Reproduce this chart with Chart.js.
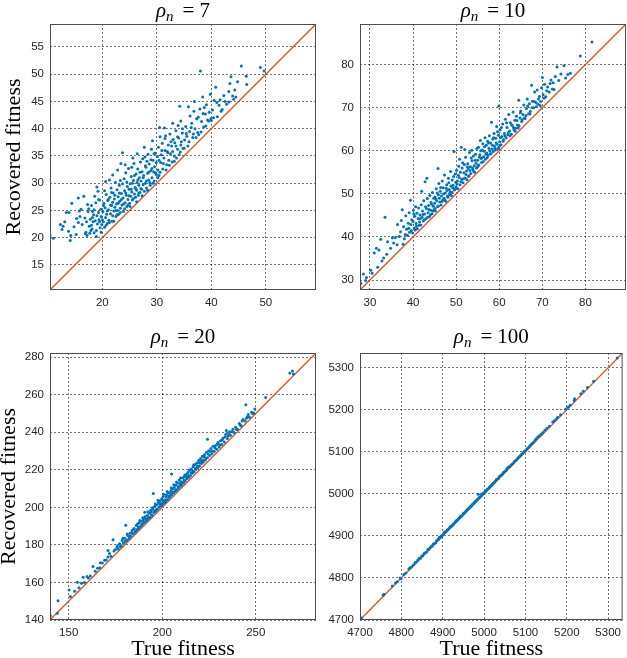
<!DOCTYPE html>
<html>
<head>
<meta charset="utf-8">
<script src="https://cdn.jsdelivr.net/npm/chart.js@4.4.1/dist/chart.umd.min.js"></script>
<style>
  html, body { margin: 0; padding: 0; background: #fff; }
  #wrap { position: relative; width: 627px; height: 658px; overflow: hidden; }
  canvas { position: absolute; }
</style>
</head>
<body>
<div id="wrap">
  <canvas id="c7" width="318" height="310" style="left:0;top:0"></canvas>
  <canvas id="c10" width="309" height="310" style="left:318px;top:0"></canvas>
  <canvas id="c20" width="318" height="348" style="left:0;top:310px"></canvas>
  <canvas id="c100" width="309" height="348" style="left:318px;top:310px"></canvas>
</div>
<script>
// [true fitness, recovered fitness]
const pts7 = [
  [10.4,20.5],[11.0,19.9],[12.3,22.4],[12.8,22.1],[13.1,22.9],[13.4,24.6],[13.9,24.6],[13.8,21.2],[14.2,20.4],[14.1,19.5],[14.4,26.3],[12.6,21.5],[14.8,22.0],
  [15.2,20.6],[15.6,22.8],[15.6,27.3],[15.8,24.9],[15.9,23.9],[16.6,27.6],[17.0,21.0],[16.3,22.4],[16.8,23.6],[17.2,20.4],[17.4,24.8],[17.6,22.1],[17.8,23.4],[18.0,25.9],[18.1,21.6],[18.3,22.9],[18.4,24.2],[18.5,20.9],[18.7,23.1],[18.8,26.4],[18.9,20.2],[19.0,29.3],[19.2,28.5],[19.1,22.5],[19.3,24.6],[19.4,23.3],[19.6,21.8],[19.7,25.2],[19.8,23.9],[19.9,22.4],[16.1,25.2],[17.3,26.1],[15.3,23.5],[16.9,20.7],[18.6,27.6],[17.9,21.3],[19.5,26.9],[18.2,24.8],
  [17.1,22.9],[17.5,25.3],[17.7,20.8],[18.0,22.3],[18.2,23.7],[18.5,25.1],[18.9,21.3],[19.0,24.0],[19.3,27.0],[19.5,22.9],[19.8,21.0],
  [20.1,24.8],[20.2,22.9],[20.3,26.3],[20.4,21.9],[20.5,25.5],[20.6,23.7],[20.7,27.9],[20.8,24.3],[20.9,22.6],[21.0,26.8],[21.1,25.1],[21.3,30.6],[21.2,23.2],[21.4,27.4],[21.5,24.4],[21.6,29.1],[21.7,25.9],[21.8,23.0],[21.9,26.5],[22.0,28.2],[22.1,24.9],[22.2,27.1],[22.3,25.6],[22.4,30.1],[22.5,23.9],[22.6,26.2],[22.7,28.8],[22.8,25.0],[22.9,27.5],[23.0,24.3],[23.1,29.6],[23.2,26.7],[23.3,25.4],[23.4,33.6],[23.5,28.1],[23.6,26.0],[23.7,35.6],[23.8,27.3],[23.9,24.8],[24.0,30.8],[24.1,28.6],[24.2,26.4],[24.3,31.9],[24.4,27.8],[24.5,25.7],[24.6,29.4],[24.7,27.0],[24.8,32.7],[24.9,28.9],[20.6,30.3],[21.9,31.5],[22.8,32.4],[24.2,33.4],[23.3,30.5],
  [20.0,23.3],[20.2,25.9],[20.4,28.6],[20.7,22.3],[20.9,24.9],[21.1,27.0],[21.3,22.8],[21.5,26.0],[21.7,28.3],[21.9,24.0],[22.1,23.0],[22.3,27.8],[22.5,25.0],[22.7,24.2],[22.9,26.3],[23.1,28.2],[23.3,24.6],[23.5,27.0],[23.7,29.9],[23.9,26.2],[24.1,25.3],[24.3,28.2],[24.5,30.2],[24.7,26.0],[24.9,27.7],
  [25.0,26.3],[25.1,29.9],[25.2,27.6],[25.3,31.2],[25.4,28.4],[25.5,26.9],[25.6,34.6],[25.7,30.5],[25.8,33.6],[25.9,28.0],[26.0,29.2],[26.1,27.4],[26.2,31.7],[26.3,28.7],[26.4,30.1],[26.5,32.6],[26.6,27.8],[26.7,29.6],[26.8,31.0],[26.9,28.3],[27.0,33.9],[27.1,30.4],[27.2,28.9],[27.3,32.1],[27.5,29.7],[27.6,31.4],[27.7,36.6],[27.8,34.8],[27.9,30.0],[28.0,32.9],[28.1,29.1],[28.3,31.8],[28.4,35.3],[28.5,30.6],[28.6,33.5],[28.8,29.6],[28.9,32.3],[29.0,36.2],[29.2,37.8],[29.1,31.0],[29.3,34.2],[29.5,30.4],[29.6,33.0],[29.7,35.5],[29.9,31.6],[26.4,35.4],[27.4,34.5],[28.2,34.0],[25.4,32.9],[29.4,32.1],
  [25.1,25.7],[25.3,28.9],[25.5,30.0],[25.7,27.2],[25.9,31.4],[26.1,29.0],[26.3,26.6],[26.5,30.6],[26.7,28.2],[26.9,32.0],[27.1,29.0],[27.3,27.7],[27.5,31.0],[27.7,28.5],[27.9,33.2],[28.1,30.4],[28.3,28.7],[28.5,32.0],[28.7,30.1],[28.9,34.3],[29.1,32.7],[29.3,30.0],[29.5,35.4],[29.7,31.9],[29.9,33.8],
  [30.1,34.9],[30.2,32.4],[30.3,36.6],[30.5,40.2],[30.6,38.5],[30.4,31.4],[30.7,33.8],[30.8,35.2],[31.0,37.3],[31.1,32.6],[31.3,34.6],[31.5,36.0],[31.6,38.7],[31.8,33.4],[31.9,35.8],[32.1,37.0],[32.2,34.2],[32.4,39.0],[32.5,35.4],[32.7,36.8],[32.8,33.9],[33.0,38.0],[33.2,35.0],[33.3,37.4],[33.5,39.6],[33.6,34.6],[33.8,36.2],[33.9,40.6],[34.0,38.3],[34.2,44.1],[34.3,35.7],[34.5,37.6],[34.7,39.2],[34.8,36.4],[31.4,40.1],[32.9,41.0],[34.4,41.4],
  [30.2,31.0],[30.4,34.2],[30.6,32.0],[30.9,36.0],[31.2,33.6],[31.5,38.2],[31.7,32.4],[32.0,35.6],[32.3,33.3],[32.6,37.6],[32.9,35.8],[33.2,34.0],[33.5,36.8],[33.8,38.5],[34.1,35.2],[34.4,37.0],[34.7,40.0],
  [35.1,37.9],[35.3,40.4],[35.5,38.6],[35.8,44.0],[35.7,36.8],[36.1,42.3],[36.0,39.5],[36.4,41.0],[36.6,38.4],[36.8,43.2],[37.0,40.0],[37.3,41.8],[37.5,39.3],[37.7,38.9],[37.9,43.6],[38.0,50.6],[38.2,41.3],[38.4,45.8],[38.6,40.3],[38.9,42.7],[39.1,44.4],[39.3,41.6],[39.5,41.4],[39.8,46.3],[39.9,41.8],[36.9,45.0],[38.7,43.9],
  [35.0,36.4],[35.4,39.1],[35.9,37.6],[36.3,40.2],[36.7,39.0],[37.2,38.4],[37.6,42.1],[38.1,39.4],[38.5,42.8],[39.0,40.5],[39.6,43.0],
  [40.2,43.4],[40.5,45.2],[40.8,47.6],[41.1,42.2],[41.4,44.3],[41.6,45.3],[42.0,43.5],[42.3,46.1],[42.8,44.5],[43.2,44.9],[43.2,46.8],[43.4,48.3],[43.6,49.5],[44.1,45.4],[44.3,47.1],[44.5,45.8],[45.5,51.5],[46.4,49.6],[46.5,48.1],[49.0,51.2],[49.7,50.6],
  [40.0,41.5],[40.4,42.0],[41.0,44.8],[41.8,43.2],[42.5,45.0],[43.9,46.0],[44.8,48.6]
];

const pts10 = [
  [27.9,29.2],[28.5,31.4],[29.2,30.6],[30.5,31.6],[29.0,29.9],[30.2,32.3],[31.0,36.3],[31.5,37.4],[32.1,37.0],[32.5,39.5],[33.2,35.1],[33.5,44.6],[32.8,34.4],[34.1,38.9],[34.8,37.4],[31.8,33.0],[33.9,36.0],
  [35.2,39.8],[35.9,39.9],[35.5,38.6],[36.3,38.2],[36.8,40.1],[37.1,41.2],[37.5,46.3],[37.3,43.8],[37.8,42.4],[38.0,39.6],[38.3,44.9],[38.5,41.8],[38.7,40.4],[38.9,43.2],[39.1,45.6],[39.2,41.1],[39.4,48.5],[39.5,42.9],[39.7,44.0],[39.9,40.9],[36.4,42.9],[37.7,38.3],[38.2,40.6],[39.0,42.0],[39.6,41.5],
  [40.0,43.6],[40.1,46.2],[40.3,42.0],[40.4,44.8],[40.6,47.0],[40.7,43.1],[40.9,45.5],[41.0,41.9],[41.2,44.3],[41.3,46.7],[41.5,43.5],[41.6,45.1],[41.8,42.8],[41.9,47.5],[42.1,44.6],[42.2,46.0],[42.4,43.7],[42.5,48.4],[42.7,45.3],[42.8,52.8],[43.0,44.2],[43.1,46.6],[43.2,53.6],[43.3,48.9],[43.5,45.6],[43.6,47.3],[43.8,44.7],[43.9,49.6],[44.1,46.2],[44.2,48.0],[44.4,45.4],[44.5,50.3],[44.7,47.1],[44.8,49.0],[44.9,46.3],[40.5,41.6],[42.0,50.6],
  [40.2,45.3],[40.8,42.5],[41.4,42.7],[41.7,44.2],[42.3,45.2],[42.6,44.0],[42.9,47.0],[43.4,44.6],[43.7,46.4],[44.0,45.1],[44.3,47.6],[44.6,46.0],
  [45.0,47.8],[45.1,49.3],[45.2,46.0],[45.4,51.2],[45.5,48.4],[45.7,47.0],[45.8,55.9],[45.9,49.8],[46.0,52.4],[46.2,48.1],[46.3,50.6],[46.5,47.4],[46.6,49.5],[46.8,53.0],[46.9,48.6],[47.0,51.4],[47.2,49.0],[47.3,54.4],[47.5,50.2],[47.6,48.3],[47.8,52.1],[47.9,50.8],[48.1,49.2],[48.2,53.6],[48.4,51.0],[48.5,49.8],[48.7,55.2],[48.8,51.8],[49.0,50.4],[49.1,53.2],[49.3,52.0],[49.5,59.8],[49.6,50.9],[49.8,54.6],[49.9,52.7],
  [45.1,46.6],[45.3,48.8],[45.6,50.2],[45.9,47.2],[46.1,49.0],[46.4,51.5],[46.7,48.2],[47.1,50.0],[47.4,48.5],[47.7,51.3],[48.0,49.5],[48.3,52.6],[48.6,50.4],[48.9,49.6],[49.2,51.4],[49.4,54.0],[49.7,51.1],
  [50.0,51.6],[50.1,55.5],[50.3,53.0],[50.4,51.2],[50.6,56.4],[50.7,53.8],[50.9,52.1],[51.0,55.0],[51.2,60.8],[51.3,53.4],[51.5,57.2],[51.6,52.6],[51.8,54.9],[51.9,56.8],[52.1,53.7],[52.2,58.5],[52.4,55.3],[52.5,53.3],[52.7,57.0],[52.8,55.9],[53.0,54.2],[53.1,59.6],[53.3,56.3],[53.4,54.7],[53.6,60.1],[53.7,57.7],[53.9,55.6],[54.0,58.8],[54.2,56.5],[54.3,55.0],[54.5,59.2],[54.6,57.1],[54.8,60.5],[54.9,56.2],[52.0,60.3],[50.8,58.0],
  [50.2,52.3],[50.5,54.3],[51.1,52.8],[51.4,56.0],[51.7,53.5],[52.3,54.5],[52.6,56.3],[52.9,54.0],[53.2,55.4],[53.5,58.3],[53.8,56.0],[54.1,55.2],[54.4,57.8],[54.7,56.0],
  [55.0,57.8],[55.2,60.8],[55.3,56.7],[55.5,59.1],[55.6,62.4],[55.8,58.2],[55.9,57.3],[56.1,60.2],[56.2,61.6],[56.4,58.6],[56.5,59.9],[56.7,63.0],[56.8,58.0],[57.0,61.3],[57.1,59.5],[57.3,62.2],[57.4,58.9],[57.6,60.6],[57.7,63.5],[57.9,59.3],[58.0,61.8],[58.2,66.6],[58.3,60.4],[58.5,62.7],[58.6,59.8],[58.8,64.0],[58.9,61.1],[59.1,60.2],[59.2,62.9],[59.4,65.6],[59.5,61.5],[59.7,60.5],[59.9,70.4],[59.8,63.6],
  [55.1,56.6],[55.4,58.5],[55.7,60.0],[56.0,58.4],[56.3,57.5],[56.6,60.9],[56.9,59.2],[57.2,58.4],[57.5,61.8],[57.8,60.0],[58.1,59.3],[58.4,61.3],[58.7,63.0],[59.0,60.6],[59.3,61.8],[59.6,64.4],
  [60.1,62.1],[60.2,64.8],[60.4,61.4],[60.6,63.3],[60.8,66.2],[61.0,62.6],[61.2,64.0],[61.4,67.3],[61.6,63.0],[61.8,65.4],[62.0,63.7],[62.2,68.4],[62.4,64.6],[62.6,66.5],[62.8,63.8],[63.0,65.9],[63.2,69.0],[63.4,64.9],[63.6,67.1],[63.8,65.2],[64.0,68.0],[64.2,66.0],[64.5,71.7],[64.6,65.8],[64.8,67.6],
  [60.0,61.0],[60.3,63.0],[60.5,65.4],[60.9,62.2],[61.3,63.5],[61.7,66.5],[62.1,64.2],[62.5,63.5],[62.9,66.0],[63.3,65.4],[63.7,64.5],[64.1,67.0],[64.4,65.3],[64.9,68.8],
  [65.0,69.2],[65.2,66.8],[65.5,68.4],[65.7,70.6],[66.0,67.5],[66.3,69.8],[66.5,72.0],[66.8,68.6],[67.0,70.9],[67.2,69.1],[67.5,75.2],[67.7,71.5],[68.0,70.0],[68.2,73.6],[68.5,71.2],[68.8,74.1],[69.0,70.8],[69.3,72.6],[69.6,71.4],[69.8,74.6],
  [65.3,67.2],[65.8,67.6],[66.2,68.2],[66.6,70.4],[67.1,68.5],[67.6,70.0],[68.1,71.4],[68.6,70.2],[69.1,72.0],[69.5,70.5],
  [70.0,77.0],[70.2,73.0],[70.5,75.4],[70.8,72.5],[71.2,74.8],[71.6,73.6],[72.0,76.4],[72.3,74.3],[72.5,75.8],[73.0,77.2],[73.4,79.4],[73.8,76.3],[74.3,77.8],[75.0,79.7],[75.4,76.9],[75.9,77.7],[76.5,78.0],[78.8,82.0],[81.5,85.2],
  [70.4,72.2],[71.0,73.9],[71.8,75.6],[72.7,74.2]
];

const pts20 = [
  [140.2,142.3],[143.9,143.6],[144.3,150.3],[150.2,156.0],[150.9,152.5],[153.2,155.3],[154.6,160.1],[155.5,157.2],[156.8,159.6],[157.7,162.8],[158.4,160.0],[159.8,163.2],[160.5,162.4],[161.6,163.4],[163.0,168.5],[164.2,166.0],[165.4,167.5],[166.6,167.8],[166.9,170.5],[168.0,170.3],[169.2,171.8],[170.1,172.0],[171.0,173.5],[171.0,177.0],[171.8,175.4],[172.6,174.0],[173.7,182.8],[174.2,176.8],[175.0,177.6],[175.8,178.9],[176.5,177.8],[177.2,180.6],[178.0,179.5],[178.6,182.4],[179.3,181.0],[180.0,183.6],[180.5,190.4],[181.0,182.5],[181.6,185.0],[182.2,183.4],[182.8,186.2],[183.3,184.7],[183.9,187.6],[184.4,186.0],[185.0,188.7],[185.5,186.8],[186.1,190.3],[186.6,188.2],[187.2,189.5],[187.7,191.6],[188.3,189.8],[188.8,192.6],[189.3,191.0],[189.9,193.4],[190.4,191.9],[190.6,197.4],[191.0,194.2],[191.5,192.8],[192.0,195.6],[192.5,193.9],[193.0,196.8],[193.5,194.6],[194.0,197.6],[194.5,195.8],[195.0,199.0],[195.2,207.4],[195.5,197.2],[196.0,200.4],[196.5,198.0],[197.0,201.3],[197.4,199.0],[197.9,202.6],[198.3,200.1],[198.8,203.4],[199.2,200.8],[199.7,204.6],
  [176.0,179.6],[177.6,179.0],[179.0,183.5],[180.3,182.0],[181.3,185.8],[182.5,184.5],[183.6,186.5],[184.7,188.3],[185.8,187.4],[186.9,191.2],[187.4,188.9],[188.0,193.0],[189.1,190.6],[189.6,194.5],[190.2,192.0],[190.8,195.0],[191.8,193.4],[192.3,197.6],[192.8,194.6],[193.8,198.4],[194.3,196.0],[194.8,199.8],[195.8,197.8],[196.3,201.8],[196.8,198.8],[197.7,203.8],[198.6,201.8],[199.5,202.0],
  [200.1,201.6],[200.5,205.8],[201.0,202.5],[201.4,204.0],[201.9,203.4],[202.3,206.7],[202.8,204.2],[203.2,207.8],[203.7,205.3],[204.1,206.0],[204.6,208.9],[205.0,217.7],[205.0,206.6],[205.5,209.8],[206.0,207.7],[206.4,210.6],[206.9,208.6],[207.3,211.8],[207.8,209.4],[208.2,212.9],[208.7,210.3],[209.1,214.5],[209.6,211.2],[210.0,213.6],[210.5,212.0],[211.0,215.8],[211.4,213.1],[211.9,216.4],[212.3,214.0],[212.8,217.5],[213.3,215.2],[213.7,218.6],[214.2,216.0],[214.7,219.8],[215.1,217.0],[215.6,220.4],[216.1,218.1],[216.6,221.6],[217.0,219.0],[217.5,222.8],[218.0,220.2],[218.5,223.6],[219.0,221.1],[219.5,224.9],
  [200.3,203.6],[200.8,207.0],[201.6,203.0],[202.1,205.6],[202.6,208.4],[203.5,206.0],[204.4,207.5],[204.8,210.4],[205.8,208.0],[206.2,212.0],[207.1,209.4],[207.6,213.5],[208.5,211.0],[209.4,212.6],[209.8,215.6],[210.8,213.3],[211.7,214.6],[212.1,217.2],[213.0,216.0],[213.9,217.0],[214.4,219.9],[215.4,218.4],[216.3,219.4],[216.8,222.6],[217.8,220.8],[218.8,222.0],[219.8,223.6],
  [220.0,222.0],[220.5,226.0],[221.0,223.4],[221.5,227.2],[222.0,224.1],[222.6,228.0],[223.1,225.2],[223.6,229.3],[224.2,236.3],[224.2,226.4],[224.8,230.2],[225.4,227.6],[226.0,231.4],[226.6,228.6],[227.2,232.5],[227.8,229.8],[228.5,233.0],[229.1,231.0],[229.8,234.6],[230.4,232.2],[231.1,235.4],[231.8,233.5],[232.5,236.8],[233.2,234.8],[234.0,238.9],[234.3,240.9],[234.8,236.6],[235.6,239.3],[236.5,238.2],[237.4,240.4],[238.3,239.8],[239.2,242.6],
  [220.8,224.6],[221.8,225.2],[222.3,227.0],[223.4,226.3],[224.5,228.4],[225.7,229.8],[226.9,230.0],[228.2,231.6],[229.5,233.6],[230.8,233.4],[232.1,235.8],[233.6,237.6],[235.2,238.0],[236.0,240.2],[237.8,241.6],[239.7,241.4],
  [240.2,241.6],[241.2,244.7],[242.2,243.5],[243.2,246.8],[244.3,246.0],[244.7,254.6],[245.5,248.3],[246.6,248.0],[247.8,250.6],[248.9,250.2],[249.5,252.4],[241.7,243.9],[242.7,246.0],[245.0,247.4],[246.0,249.4],[248.3,250.0],
  [255.3,258.5],[268.2,271.6],[269.6,272.6],[270.1,271.0]
];

const pts100 = [
  [4702,4703],[4704,4705],[4756,4759],[4758,4761],[4778,4781],[4786,4788],[4790,4791],[4797,4800],[4799,4798],[4806,4808],[4811,4812],[4818,4821],[4821,4824],[4825,4826],[4829,4831],[4833,4836],[4836,4838],[4840,4842],[4843,4846],[4846,4847],[4849,4852],[4852,4853],[4855,4858],[4858,4860],[4861,4862],[4864,4867],[4866,4868],[4869,4871],[4872,4875],[4875,4876],[4877,4880],[4880,4882],[4883,4884],[4885,4888],[4888,4891],[4890,4892],[4892,4897],[4895,4897],[4897,4900],[4899,4901],
  [4902,4905],[4904,4909],[4906,4908],[4909,4911],[4911,4914],[4913,4915],[4916,4918],[4918,4922],[4920,4922],[4923,4925],[4925,4928],[4927,4929],[4930,4933],[4932,4934],[4934,4937],[4936,4938],[4939,4942],[4941,4943],[4943,4947],[4945,4947],[4948,4950],[4950,4953],[4952,4954],[4954,4957],[4957,4959],[4959,4962],[4961,4963],[4963,4966],[4966,4968],[4968,4971],[4970,4972],[4972,4975],[4975,4977],[4977,4980],[4979,4981],[4981,4984],[4984,4986],[4986,4999],[4986,4989],[4988,4991],[4990,4992],[4993,4996],[4995,4997],[4997,5001],[4999,5001],
  [5001,5004],[5004,5006],[5006,5009],[5008,5011],[5011,5013],[5013,5016],[5015,5018],[5018,5020],[5020,5023],[5022,5025],[5025,5027],[5027,5030],[5030,5034],[5032,5035],[5035,5037],[5037,5041],[5040,5043],[5042,5045],[5045,5047],[5047,5051],[5050,5053],[5053,5055],[5055,5059],[5058,5063],[5061,5064],[5064,5067],[5067,5070],[5070,5072],[5073,5077],[5076,5079],[5079,5082],[5082,5085],[5085,5088],[5088,5091],[5091,5094],[5094,5097],[5097,5101],
  [5101,5104],[5104,5107],[5108,5111],[5111,5115],[5115,5119],[5119,5122],[5123,5127],[5126,5131],[5130,5135],[5134,5138],[5138,5142],[5142,5146],[5147,5151],[5152,5156],[5158,5161],[5166,5171],[5170,5174],[5175,5178],[5178,5182],[5185,5188],[5197,5201],[5203,5206],[5208,5211],[5218,5222],[5219,5226],[5234,5238],[5240,5244],[5250,5253],[5265,5268],[5322,5323]
];

// axis limits (same for x and y) and tick values
const lim7 = [10.4, 59.2];
const lim10 = [27.7, 89.4];
const lim20 = [140, 282.2];
const lim100 = [4700, 5335];

const xTicks7 = [20, 30, 40, 50];
const yTicks7 = [15, 20, 25, 30, 35, 40, 45, 50, 55];
const ticks10 = [30, 40, 50, 60, 70, 80];
const xTicks20 = [150, 200, 250];
const yTicks20 = [140, 160, 180, 200, 220, 240, 260, 280];
const ticks100 = [4700, 4800, 4900, 5000, 5100, 5200, 5300];

const BLUE = '#0072BD';
const ORANGE = '#D95319';
const INK = '#262626';

// rho_n = N title, drawn with italic rho and subscript n
const rhoTitle = {
    id: 'rhoTitle',
    afterDraw(chart, args, opts) {
        const { ctx, chartArea: a } = chart;
        const big = '21px "Liberation Serif"';
        const itBig = 'italic 21px "Liberation Serif"';
        const itSmall = 'italic 15px "Liberation Serif"';
        ctx.save();
        ctx.fillStyle = '#000';
        ctx.textBaseline = 'alphabetic';
        ctx.textAlign = 'left';
        ctx.font = itBig; const wRho = ctx.measureText('ρ').width;
        ctx.font = itSmall; const wN = ctx.measureText('n').width;
        ctx.font = big;
        const wEq = ctx.measureText('=').width;
        const wNum = ctx.measureText(opts.value).width;
        const total = wRho + wN + 9 + wEq + 5 + wNum;
        let x = (a.left + a.right) / 2 - total / 2;
        const y = opts.baseline;
        ctx.font = itBig; ctx.fillText('ρ', x, y); x += wRho;
        ctx.font = itSmall; ctx.fillText('n', x, y + 4); x += wN + 9;
        ctx.font = big; ctx.fillText('=', x, y); x += wEq + 5;
        ctx.fillText(opts.value, x, y);
        ctx.restore();
    }
};

const boxPlugin = {
    id: 'box',
    afterDraw(chart) {
        const { ctx, chartArea: a } = chart;
        ctx.save();
        ctx.strokeStyle = '#4d4d4d';
        ctx.lineWidth = 1;
        ctx.strokeRect(a.left + 0.5, a.top + 0.5, a.right - a.left - 1, a.bottom - a.top - 1);
        ctx.restore();
    }
};

const panels = [
    { id: 'c7', rho: '7', pts: pts7, lim: lim7, xTicks: xTicks7, yTicks: yTicks7, yW: 50, xH: 20, padTop: 24, padRight: 2, titleBase: 17, yLabel: true, yLabelPad: 3, xLabel: false },
    { id: 'c10', rho: '10', pts: pts10, lim: lim10, xTicks: ticks10, yTicks: ticks10, yW: 42, xH: 20, padTop: 24, padRight: 1, titleBase: 17, yLabel: false, yLabelPad: 0, xLabel: false },
    { id: 'c20', rho: '20', pts: pts20, lim: lim20, xTicks: xTicks20, yTicks: yTicks20, yW: 50, xH: 38, padTop: 43, padRight: 2, titleBase: 33, yLabel: true, yLabelPad: -2, xLabel: true },
    { id: 'c100', rho: '100', pts: pts100, lim: lim100, xTicks: ticks100, yTicks: ticks100, yW: 42, xH: 38, padTop: 43, padRight: 1, titleBase: 33, yLabel: false, yLabelPad: 0, xLabel: true }
];

function renderPanel(p) {
    const ctx = document.getElementById(p.id).getContext('2d');
    const tickOpts = { color: INK, font: { family: '"Liberation Sans", Arial, sans-serif', size: 11.5 }, padding: 6, autoSkip: false, maxRotation: 0, callback: v => String(v) };
    const grid = { color: 'rgba(0,0,0,0.55)', lineWidth: 1, drawTicks: false };
    const border = { display: false, dash: [2, 2] };
    const labelFont = { family: '"Liberation Serif", "Times New Roman", serif', size: 22, lineHeight: 1 };

    new Chart(ctx, {
        type: 'scatter',
        data: {
            datasets: [{
                data: p.pts.map(([x, y]) => ({ x, y })),
                backgroundColor: BLUE,
                borderWidth: 0,
                pointRadius: 1.5,
                pointHoverRadius: 1.5
            }, {
                data: [{ x: p.lim[0], y: p.lim[0] }, { x: p.lim[1], y: p.lim[1] }],
                showLine: true,
                borderColor: ORANGE,
                borderWidth: 1.3,
                pointRadius: 0
            }]
        },
        options: {
            responsive: false,
            animation: false,
            events: [],
            layout: { autoPadding: false, padding: { top: p.padTop, right: p.padRight, left: 0, bottom: 0 } },
            plugins: {
                legend: { display: false },
                tooltip: { enabled: false },
                rhoTitle: { value: p.rho, baseline: p.titleBase }
            },
            scales: {
                x: {
                    type: 'linear', position: 'bottom', min: p.lim[0], max: p.lim[1],
                    afterBuildTicks: s => { s.ticks = p.xTicks.map(v => ({ value: v })); },
                    afterFit: s => { s.height = p.xH; },
                    grid, border, ticks: tickOpts,
                    title: { display: p.xLabel, text: 'True fitness', color: '#000', font: labelFont, padding: { top: 0, bottom: -2 } }
                },
                y: {
                    type: 'linear', position: 'left', min: p.lim[0], max: p.lim[1],
                    afterBuildTicks: s => { s.ticks = p.yTicks.map(v => ({ value: v })); },
                    afterFit: s => { s.width = p.yW; },
                    grid, border, ticks: tickOpts,
                    title: { display: p.yLabel, text: 'Recovered fitness', color: '#000', font: labelFont, padding: { top: p.yLabelPad, bottom: 0 } }
                }
            }
        },
        plugins: [rhoTitle, boxPlugin]
    });
}

panels.forEach(renderPanel);
</script>
</body>
</html>
